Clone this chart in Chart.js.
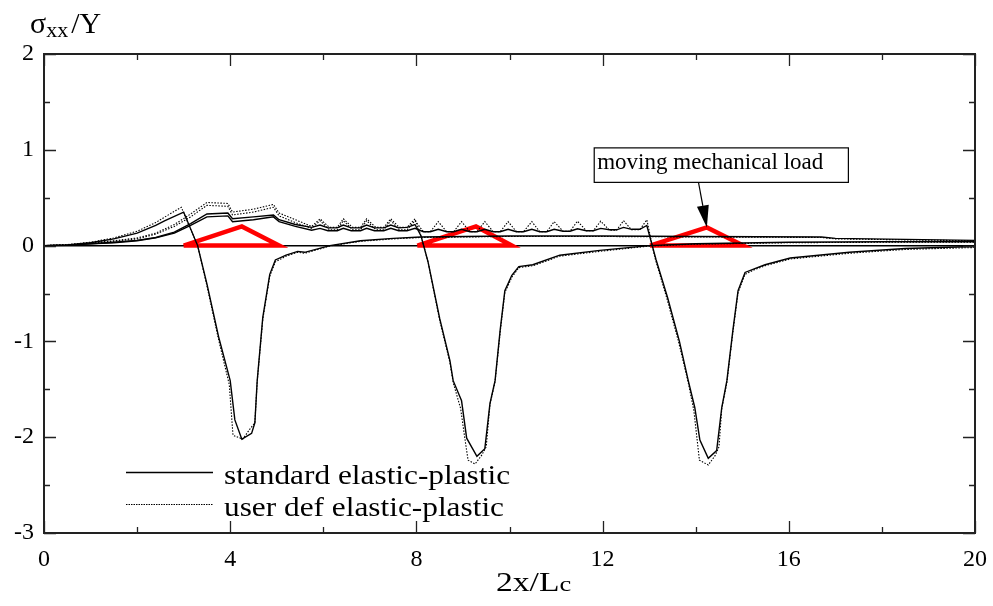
<!DOCTYPE html>
<html>
<head>
<meta charset="utf-8">
<script src="https://cdn.jsdelivr.net/npm/chart.js@4.4.1/dist/chart.umd.min.js"></script>
<style>
  html, body { margin: 0; padding: 0; background: #fff; }
  #wrap { width: 993px; height: 606px; }
</style>
</head>
<body>
<div id="wrap"><canvas id="stressChart" width="993" height="606"></canvas></div>
<script>
// axis ranges and tick steps
const xRange = [0, 20];
const yRange = [-3, 2];
const xStep = 2;
const yStep = 0.5;

// standard elastic-plastic, load at 3-5, 8-10, 13-15  [x, sigma/Y]
const std1 = [[0,0],[0.5,0.008],[1,0.03],[1.5,0.07],[2,0.13],[2.4,0.21],[2.6,0.26],[3.0,0.35],[3.3,0.0],[3.5,-0.4],
  [3.75,-0.95],[4.0,-1.41],[4.1,-1.82],[4.25,-2.02],[4.46,-1.96],[4.53,-1.85],[4.58,-1.41],[4.7,-0.75],[4.85,-0.3],
  [4.97,-0.15],[5.2,-0.1],[5.45,-0.06],[5.6,-0.07],[6.14,0],[6.8,0.05],[7.5,0.075],[8.1,0.09],[10,0.1],[12,0.1],
  [14,0.095],[16.7,0.09],[17,0.075],[18.5,0.065],[20,0.055]];

const std2 = [[0,0],[0.5,0.005],[1,0.02],[1.5,0.035],[2,0.055],[2.4,0.085],[2.8,0.14],[3.15,0.23],[3.5,0.33],[3.95,0.34],
  [4.05,0.28],[4.5,0.3],[4.93,0.32],[5.05,0.27],[5.4,0.22],[5.75,0.19],[5.93,0.215],[6.1,0.185],[6.3,0.185],[6.43,0.215],
  [6.6,0.185],[6.8,0.185],[6.93,0.215],[7.1,0.185],[7.3,0.185],[7.45,0.215],[7.62,0.185],[7.8,0.19],[7.97,0.22],
  [8.1,0.1],[8.25,-0.17],[8.5,-0.76],[8.72,-1.2],[8.79,-1.41],[8.97,-1.62],[9.08,-2.01],[9.3,-2.2],[9.47,-2.12],
  [9.58,-1.65],[9.69,-1.41],[9.8,-0.88],[9.9,-0.47],[10.05,-0.31],[10.2,-0.22],[10.5,-0.2],[11.08,-0.1],[11.94,-0.05],
  [13,0],[14,0.02],[16,0.035],[18,0.04],[20,0.04]];

const std3 = [[0,0],[0.5,0.004],[1,0.018],[1.5,0.03],[2,0.05],[2.4,0.08],[2.8,0.13],[3.15,0.21],[3.5,0.30],[3.95,0.31],
  [4.05,0.25],[4.5,0.27],[4.93,0.30],[5.05,0.25],[5.4,0.2],[5.75,0.16],[5.93,0.18],[6.1,0.155],[6.3,0.155],[6.43,0.18],
  [6.6,0.155],[6.8,0.155],[6.93,0.18],[7.1,0.155],[7.3,0.155],[7.45,0.18],[7.62,0.155],[7.8,0.155],[7.97,0.18],
  [8.15,0.145],[8.3,0.145],[8.47,0.17],[8.65,0.145],[8.8,0.145],[8.97,0.17],[9.15,0.145],[9.3,0.145],[9.47,0.17],
  [9.65,0.145],[9.8,0.145],[9.97,0.17],[10.15,0.145],[10.3,0.145],[10.48,0.17],[10.65,0.145],[10.8,0.145],[10.96,0.17],
  [11.15,0.15],[11.3,0.15],[11.46,0.175],[11.65,0.155],[11.8,0.155],[11.96,0.18],[12.15,0.165],[12.3,0.165],[12.45,0.19],
  [12.62,0.17],[12.8,0.17],[12.95,0.21],[13.15,-0.15],[13.4,-0.55],[13.65,-1.0],[13.84,-1.41],[13.98,-1.69],[14.09,-2.03],
  [14.27,-2.22],[14.45,-2.14],[14.56,-1.69],[14.67,-1.41],[14.8,-0.88],[14.91,-0.47],[15.06,-0.28],[15.27,-0.24],
  [15.49,-0.2],[16.03,-0.13],[17.3,-0.07],[18.5,-0.03],[20,-0.01]];

// user defined elastic-plastic
const user1 = [[0,0],[0.5,0.01],[1,0.035],[1.5,0.08],[2,0.15],[2.4,0.24],[2.6,0.3],[2.95,0.40],[3.3,0.0],[3.5,-0.42],
  [3.75,-0.98],[3.98,-1.45],[4.06,-1.98],[4.27,-2.02],[4.43,-1.91],[4.53,-1.85],[4.58,-1.42],[4.7,-0.77],[4.85,-0.32],
  [4.97,-0.17],[5.2,-0.11],[5.45,-0.07],[5.6,-0.08],[6.14,-0.005],[6.8,0.045],[7.5,0.07],[8.1,0.085],[10,0.095],
  [12,0.095],[14,0.09],[16.7,0.085],[17,0.07],[18.5,0.06],[20,0.05]];

const user2 = [[0,0],[0.5,0.008],[1,0.03],[1.5,0.05],[2,0.08],[2.4,0.13],[2.8,0.22],[3.15,0.33],[3.5,0.45],[3.95,0.44],
  [4.05,0.35],[4.5,0.38],[4.93,0.43],[5.05,0.34],[5.4,0.27],[5.75,0.2],[5.93,0.28],[6.13,0.19],[6.3,0.19],[6.43,0.28],
  [6.63,0.19],[6.8,0.19],[6.93,0.28],[7.13,0.19],[7.3,0.19],[7.45,0.28],[7.63,0.19],[7.8,0.19],[7.97,0.28],
  [8.1,0.1],[8.25,-0.17],[8.5,-0.78],[8.72,-1.22],[8.79,-1.43],[8.95,-1.7],[9.04,-2.01],[9.11,-2.24],[9.26,-2.28],
  [9.4,-2.19],[9.5,-2.1],[9.58,-1.66],[9.69,-1.42],[9.8,-0.9],[9.9,-0.49],[10.05,-0.33],[10.2,-0.23],[10.5,-0.21],
  [11.08,-0.11],[11.94,-0.06],[13,-0.005],[14,0.015],[16,0.03],[18,0.035],[20,0.035]];

const user3 = [[0,0],[0.5,0.006],[1,0.025],[1.5,0.045],[2,0.07],[2.4,0.12],[2.8,0.2],[3.15,0.3],[3.5,0.42],[3.95,0.41],
  [4.05,0.32],[4.5,0.35],[4.93,0.40],[5.05,0.31],[5.4,0.24],[5.75,0.18],[5.93,0.26],[6.13,0.165],[6.3,0.165],[6.43,0.26],
  [6.63,0.165],[6.8,0.165],[6.93,0.26],[7.13,0.165],[7.3,0.165],[7.45,0.26],[7.63,0.165],[7.8,0.165],[7.97,0.26],
  [8.15,0.145],[8.3,0.145],[8.47,0.25],[8.65,0.145],[8.8,0.145],[8.97,0.25],[9.15,0.145],[9.3,0.145],[9.47,0.25],
  [9.65,0.145],[9.8,0.145],[9.97,0.25],[10.15,0.145],[10.3,0.145],[10.48,0.25],[10.65,0.145],[10.8,0.145],[10.96,0.25],
  [11.15,0.15],[11.3,0.15],[11.46,0.255],[11.65,0.155],[11.8,0.155],[11.96,0.255],[12.15,0.16],[12.3,0.16],[12.45,0.26],
  [12.62,0.165],[12.8,0.165],[12.95,0.27],[13.12,-0.12],[13.38,-0.55],[13.63,-1.0],[13.84,-1.43],[13.96,-1.72],
  [14.08,-2.24],[14.27,-2.29],[14.42,-2.19],[14.5,-2.1],[14.56,-1.7],[14.67,-1.43],[14.8,-0.9],[14.91,-0.49],
  [15.06,-0.3],[15.27,-0.25],[15.49,-0.21],[16.03,-0.14],[17.3,-0.08],[18.5,-0.04],[20,-0.02]];

// moving mechanical load: the three red triangles
const load1 = [[3.0,0],[4.25,0.2],[5.05,0],[3.0,0]];
const load2 = [[8.02,0],[9.28,0.2],[10.05,0],[8.02,0]];
const load3 = [[13.02,0],[14.24,0.19],[15.02,0],[13.02,0]];

// annotation: box corners and arrow, in data units
const noteText = 'moving mechanical load';
const noteBox = [[11.82, 1.02], [17.28, 0.66]];
const noteArrow = [[14.06, 0.66], [14.24, 0.19]];

const legendLabels = ['standard elastic-plastic', 'user def elastic-plastic'];

const pts = arr => arr.map(p => ({ x: p[0], y: p[1] }));
const SERIF = '"Liberation Serif", "Times New Roman", serif';

function solid(data) {
  return { data: pts(data), borderColor: '#000', borderWidth: 1.4, pointRadius: 0, tension: 0, fill: false };
}
function dotted(data) {
  return { data: pts(data), borderColor: '#000', borderWidth: 1.1, borderDash: [1.5, 1.5], pointRadius: 0, tension: 0, fill: false };
}
function load(data) {
  return { data: pts(data), borderColor: '#ff0000', borderWidth: 4.5, borderJoinStyle: 'miter', pointRadius: 0, tension: 0, fill: false };
}

// frame with inward ticks on all four sides
const framePlugin = {
  id: 'frame',
  afterDatasetsDraw(chart) {
    const { ctx, chartArea: a, scales } = chart;
    ctx.save();
    ctx.strokeStyle = '#222';
    ctx.lineWidth = 1.3;
    ctx.beginPath();
    scales.y.ticks.forEach(t => {
      const y = Math.round(scales.y.getPixelForValue(t.value)) + 0.5;
      const len = Number.isInteger(t.value) ? 12 : 6;
      ctx.moveTo(a.left, y); ctx.lineTo(a.left + len, y);
      ctx.moveTo(a.right, y); ctx.lineTo(a.right - len, y);
    });
    scales.x.ticks.forEach(t => {
      const x = Math.round(scales.x.getPixelForValue(t.value)) + 0.5;
      const len = t.value % 4 === 0 ? 12 : 6;
      ctx.moveTo(x, a.bottom); ctx.lineTo(x, a.bottom - len);
      ctx.moveTo(x, a.top); ctx.lineTo(x, a.top + len);
    });
    ctx.stroke();
    ctx.lineWidth = 2;
    ctx.strokeRect(a.left, a.top, a.right - a.left, a.bottom - a.top);
    ctx.restore();
  }
};

const notePlugin = {
  id: 'note',
  afterDatasetsDraw(chart) {
    const { ctx, scales: { x, y } } = chart;
    const x0 = x.getPixelForValue(noteBox[0][0]), y0 = y.getPixelForValue(noteBox[0][1]);
    const x1 = x.getPixelForValue(noteBox[1][0]), y1 = y.getPixelForValue(noteBox[1][1]);
    ctx.save();
    ctx.fillStyle = '#fff';
    ctx.fillRect(x0, y0, x1 - x0, y1 - y0);
    ctx.strokeStyle = '#000';
    ctx.lineWidth = 1.2;
    ctx.strokeRect(x0, y0, x1 - x0, y1 - y0);
    ctx.fillStyle = '#000';
    ctx.font = '23px ' + SERIF;
    ctx.textBaseline = 'alphabetic';
    ctx.fillText(noteText, x0 + 3, y0 + 21);
    // arrow
    const ax = x.getPixelForValue(noteArrow[0][0]), ay = y.getPixelForValue(noteArrow[0][1]);
    const bx = x.getPixelForValue(noteArrow[1][0]), by = y.getPixelForValue(noteArrow[1][1]);
    const ang = Math.atan2(by - ay, bx - ax);
    const head = 22, half = 6;
    const hx = bx - head * Math.cos(ang), hy = by - head * Math.sin(ang);
    ctx.beginPath();
    ctx.moveTo(ax, ay); ctx.lineTo(hx, hy);
    ctx.stroke();
    ctx.beginPath();
    ctx.moveTo(bx, by);
    ctx.lineTo(hx + half * Math.sin(ang), hy - half * Math.cos(ang));
    ctx.lineTo(hx - half * Math.sin(ang), hy + half * Math.cos(ang));
    ctx.closePath();
    ctx.fill();
    ctx.restore();
  }
};

const legendPlugin = {
  id: 'plotLegend',
  afterDatasetsDraw(chart) {
    const { ctx, chartArea: a } = chart;
    const lx0 = a.left + 82, lx1 = a.left + 169, tx = a.left + 180;
    const rows = [a.bottom - 61, a.bottom - 29];
    ctx.save();
    ctx.strokeStyle = '#000';
    rows.forEach((ry, i) => {
      ctx.lineWidth = i === 0 ? 1.5 : 1;
      ctx.setLineDash(i === 0 ? [] : [1.5, 1]);
      ctx.beginPath();
      ctx.moveTo(lx0, ry + 0.5); ctx.lineTo(lx1, ry + 0.5);
      ctx.stroke();
      ctx.setLineDash([]);
      ctx.fillStyle = '#000';
      ctx.font = '27px ' + SERIF;
      ctx.textBaseline = 'alphabetic';
      ctx.save();
      ctx.translate(tx, ry + 12);
      ctx.scale(1.16, 1);
      ctx.fillText(legendLabels[i], 0, 0);
      ctx.restore();
    });
    ctx.restore();
  }
};

const titlePlugin = {
  id: 'axisTitles',
  afterDraw(chart) {
    const { ctx } = chart;
    ctx.save();
    ctx.fillStyle = '#000';
    ctx.textBaseline = 'alphabetic';
    // y title: sigma_xx / Y
    let px = 30;
    ctx.font = '30px ' + SERIF;
    ctx.fillText('σ', px, 33); px += ctx.measureText('σ').width;
    ctx.font = '22px ' + SERIF;
    ctx.fillText('xx', px, 37); px += ctx.measureText('xx').width + 3;
    ctx.font = '30px ' + SERIF;
    ctx.fillText('/Y', px, 33);
    // x title: 2x / L_c (slightly widened lettering as in the source)
    ctx.translate(496, 591);
    ctx.scale(1.2, 1);
    ctx.font = '28px ' + SERIF;
    ctx.fillText('2x/L', 0, 0);
    const w1 = ctx.measureText('2x/L').width;
    ctx.font = '22px ' + SERIF;
    ctx.fillText('c', w1, 0);
    ctx.restore();
  }
};

new Chart(document.getElementById('stressChart'), {
  type: 'line',
  data: {
    datasets: [
      solid(std1), solid(std2), solid(std3),
      dotted(user1), dotted(user2), dotted(user3),
      load(load1), load(load2), load(load3)
    ]
  },
  options: {
    responsive: false,
    animation: false,
    devicePixelRatio: 1,
    layout: { padding: { top: 54, right: 18, left: 0, bottom: 0 } },
    plugins: { legend: { display: false }, tooltip: { enabled: false } },
    scales: {
      x: {
        type: 'linear', min: xRange[0], max: xRange[1],
        afterFit: s => { s.height = 73; s.paddingRight = 0; s.paddingLeft = 0; },
        grid: { display: false, drawTicks: false },
        border: { display: false },
        ticks: {
          stepSize: xStep, autoSkip: false, maxRotation: 0, padding: 12,
          color: '#000', font: { family: SERIF, size: 24 },
          callback: v => (v % 4 === 0 ? v : '')
        }
      },
      y: {
        type: 'linear', min: yRange[0], max: yRange[1],
        afterFit: s => { s.width = 44; },
        grid: {
          drawTicks: false,
          color: c => (c.tick && c.tick.value === 0 ? '#000' : 'rgba(0,0,0,0)'),
          lineWidth: 1.6
        },
        border: { display: false },
        ticks: {
          stepSize: yStep, autoSkip: false, padding: 10,
          color: '#000', font: { family: SERIF, size: 24 },
          callback: v => (Number.isInteger(v) ? v : '')
        }
      }
    }
  },
  plugins: [framePlugin, notePlugin, legendPlugin, titlePlugin]
});
</script>
</body>
</html>
